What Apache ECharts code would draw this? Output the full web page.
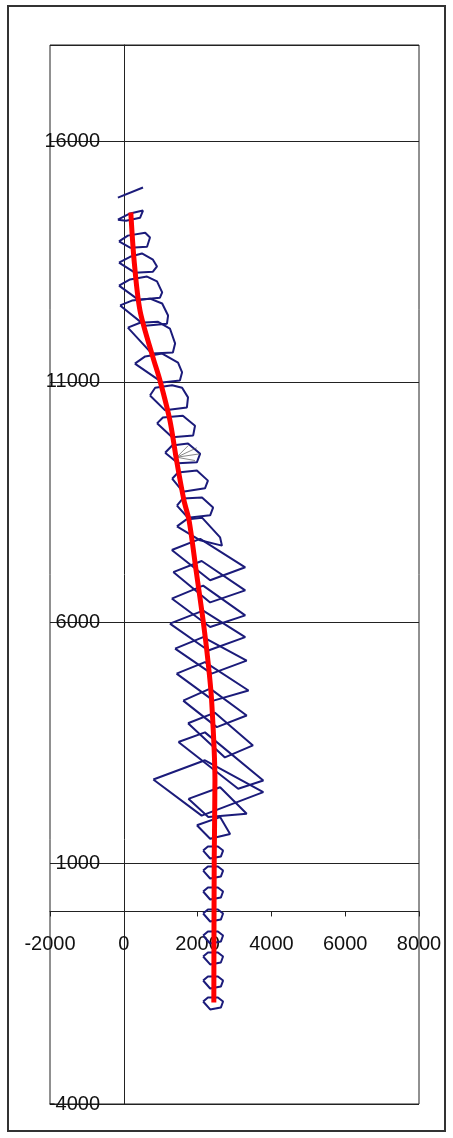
<!DOCTYPE html>
<html>
<head>
<meta charset="utf-8">
<script src="https://cdn.jsdelivr.net/npm/echarts@6/dist/echarts.min.js"></script>
<style>
  html, body { margin: 0; padding: 0; background: #fff; }
  #chart { width: 453px; height: 1138px; }
</style>
</head>
<body>
<div id="chart"></div>
<script>
// axis ticks
const xTicks = [-2000, 0, 2000, 4000, 6000, 8000];
const yTicks = [-4000, 1000, 6000, 11000, 16000];
const yMax = 18000;

// upper cross sections (blue outlines)
const hexTop = [
  [[-160, 14830], [520, 15040]],
  [[-160, 14370], [170, 14500], [520, 14560], [440, 14410], [60, 14350], [-160, 14370]],
  [[-130, 13920], [110, 14040], [580, 14100], [710, 14000], [630, 13810], [170, 13790], [-130, 13920]],
  [[-130, 13480], [170, 13600], [490, 13670], [790, 13540], [900, 13400], [790, 13290], [300, 13270], [-130, 13480]],
  [[-130, 13000], [170, 13130], [630, 13190], [900, 13090], [1040, 12860], [980, 12750], [390, 12710], [-130, 13000]],
  [[-100, 12590], [220, 12690], [710, 12730], [1040, 12630], [1200, 12380], [1170, 12210], [580, 12170], [-100, 12590]],
  [[110, 12130], [440, 12230], [930, 12250], [1250, 12110], [1390, 11800], [1330, 11610], [760, 11590], [110, 12130]],
  [[300, 11380], [580, 11530], [1040, 11590], [1470, 11400], [1580, 11200], [1520, 11030], [1040, 10990], [300, 11380]],
  [[710, 10720], [850, 10880], [1310, 10930], [1580, 10880], [1740, 10680], [1710, 10470], [1120, 10410], [710, 10720]],
  [[900, 10140], [1060, 10260], [1600, 10300], [1930, 10090], [1880, 9890], [1310, 9850], [900, 10140]],
  [[1120, 9530], [1310, 9680], [1740, 9720], [2070, 9510], [1980, 9330], [1470, 9310], [1120, 9530]],
  [[1310, 8990], [1470, 9120], [1980, 9160], [2280, 8950], [2200, 8790], [1600, 8720], [1310, 8990]],
  [[1440, 8430], [1600, 8580], [2120, 8600], [2420, 8390], [2340, 8230], [1740, 8180], [1440, 8430]],
  [[1440, 8000], [1690, 8140], [2120, 8180], [2610, 7770], [2660, 7600], [2070, 7710], [1440, 8000]]
];

// middle cross sections (diamonds)
const diamonds = [
  [[1300, 7510], [2070, 7740], [3290, 7150], [2340, 6880], [1300, 7510]],
  [[1340, 7050], [2110, 7280], [3290, 6670], [2340, 6420], [1340, 7050]],
  [[1300, 6500], [2150, 6770], [3290, 6150], [2340, 5910], [1300, 6500]],
  [[1250, 5980], [2150, 6250], [3290, 5700], [2290, 5420], [1250, 5980]],
  [[1390, 5460], [2150, 5700], [3330, 5210], [2380, 4940], [1390, 5460]],
  [[1430, 4940], [2200, 5180], [3380, 4590], [2430, 4380], [1430, 4940]],
  [[1610, 4380], [2340, 4630], [3330, 4070], [2520, 3830], [1610, 4380]],
  [[1740, 3910], [2470, 4130], [3500, 3450], [2740, 3200], [1740, 3910]],
  [[1480, 3520], [2200, 3720], [3780, 2720], [3100, 2550], [1480, 3520]],
  [[800, 2740], [2200, 3140], [3780, 2480], [2110, 1990], [800, 2740]],
  [[1750, 2340], [2610, 2580], [3330, 2030], [2290, 1960], [1750, 2340]],
  [[1980, 1790], [2610, 1960], [2880, 1610], [2340, 1510], [1980, 1790]]
];

// lower cross sections (small rings)
const hexBottom = [
  [[2150, 1265], [2280, 1350], [2550, 1350], [2690, 1265], [2630, 1140], [2340, 1100], [2150, 1265]],
  [[2150, 850], [2280, 935], [2550, 935], [2690, 850], [2630, 725], [2340, 685], [2150, 850]],
  [[2150, 414], [2280, 499], [2550, 499], [2690, 414], [2630, 289], [2340, 249], [2150, 414]],
  [[2150, -43], [2280, 42], [2550, 42], [2690, -43], [2630, -168], [2340, -208], [2150, -43]],
  [[2150, -500], [2280, -415], [2550, -415], [2690, -500], [2630, -625], [2340, -665], [2150, -500]],
  [[2150, -936], [2280, -851], [2550, -851], [2690, -936], [2630, -1061], [2340, -1101], [2150, -936]],
  [[2150, -1435], [2280, -1350], [2550, -1350], [2690, -1435], [2630, -1560], [2340, -1600], [2150, -1435]],
  [[2150, -1871], [2280, -1786], [2550, -1786], [2690, -1871], [2630, -1996], [2340, -2036], [2150, -1871]]
];

// thin spokes near 9400
const fanLines = [
  [[1434, 9436], [1748, 9679]],
  [[1434, 9436], [1976, 9631]],
  [[1434, 9436], [2065, 9507]],
  [[1434, 9436], [1930, 9367]]
];

// centre line (red)
const redPath = [
  [190, 14520], [280, 13520], [440, 12480], [790, 11510], [980, 11030], [1250, 10200],
  [1430, 9370], [1630, 8540], [1770, 8120], [1960, 7080], [2150, 6040], [2280, 5210],
  [2380, 4380], [2470, 2720], [2450, 1060], [2440, -1890]
];

const chart = echarts.init(document.getElementById('chart'));

const outline = (list, color, width) => list.map(p => ({
  type: 'line',
  data: p,
  symbol: 'none',
  silent: true,
  z: 2,
  lineStyle: { color: color, width: width }
}));

const series = []
  .concat(outline(hexTop, '#1b1b7a', 2))
  .concat(outline(diamonds, '#1b1b7a', 2))
  .concat(outline(hexBottom, '#1b1b7a', 2))
  .concat(outline(fanLines, '#555', 0.7));

series.push({
  type: 'line',
  data: redPath,
  symbol: 'none',
  smooth: 0.3,
  silent: true,
  z: 5,
  lineStyle: { color: '#ff0000', width: 5 }
});

const labelFont = {
  color: '#111', fontSize: 20, fontFamily: 'Liberation Sans, Arial, sans-serif',
  formatter: v => String(v)
};

chart.setOption({
  animation: false,
  backgroundColor: '#fff',
  grid: {
    left: 50, top: 45, width: 369, height: 1059,
    containLabel: false, outerBoundsMode: 'none',
    show: true, borderColor: '#222', borderWidth: 1
  },
  xAxis: {
    type: 'value',
    min: xTicks[0],
    max: xTicks[xTicks.length - 1],
    interval: 2000,
    axisLine: { onZero: true, lineStyle: { color: '#222', width: 1 } },
    axisTick: { show: true, length: 5, lineStyle: { color: '#222' } },
    splitLine: { show: false },
    axisLabel: Object.assign({ margin: -170 }, labelFont)
  },
  yAxis: {
    type: 'value',
    min: yTicks[0],
    max: yMax,
    interval: 5000,
    axisLine: { onZero: true, lineStyle: { color: '#222', width: 1 } },
    axisTick: { show: false },
    splitLine: { show: true, lineStyle: { color: '#222', width: 1 } },
    axisLabel: Object.assign({ margin: -50, align: 'right', showMaxLabel: false }, labelFont)
  },
  graphic: [{
    type: 'rect',
    shape: { x: 8, y: 6, width: 437, height: 1125 },
    style: { fill: 'none', stroke: '#333', lineWidth: 2 },
    silent: true
  }],
  series: series
});
</script>
</body>
</html>
